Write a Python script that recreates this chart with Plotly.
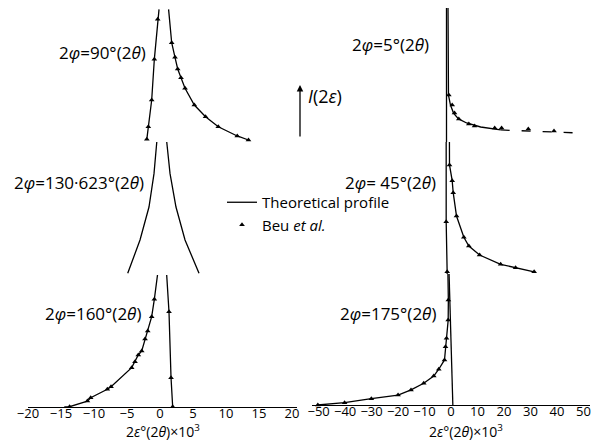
import plotly.graph_objects as go

# ---------------- data (x: 2ε°(2θ)×10³, I: relative intensity, % of panel height) -------------
# Left column: 2φ = 90°, 130.623°, 160°
t90_x = [-2.0, -1.77, -1.26, -0.86, -0.35, -0.15, None, 1.3, 1.77, 2.27, 2.68, 3.18, 3.79, 5.2, 6.9, 8.83, 11.7, 13.4]
t90_i = [2.0, 11.4, 31.3, 61.7, 91.6, 99, None, 99, 74.1, 63.2, 54.5, 48.0, 40.1, 27.6, 18.9, 11.4, 4.5, 1.5]
b90_x = [-0.35, -0.86, -1.26, -1.77, -2.0, 1.77, 2.27, 2.68, 3.18, 3.79, 5.2, 6.9, 8.83, 11.7, 13.4]
b90_i = [91.6, 61.7, 31.3, 11.4, 2.0, 74.1, 63.2, 54.5, 48.0, 40.1, 27.6, 18.9, 11.4, 4.5, 1.5]

t130_x = [-0.4, -0.5, -0.91, -1.67, -3.03, -4.89, None, 5.91, 3.79, 2.42, 1.52, 1.02, 0.95]
t130_i = [105, 100, 76.2, 51.1, 26.3, 1.3, None, 1.3, 26.3, 51.1, 76.2, 100, 105]

t160_x = [-14.5, -13.7, -11.0, -10.5, -7.98, -7.42, -4.29, -3.79, -3.29, -2.77, -2.27, -1.86, -1.26, -0.86, -0.35, -0.25,
          None, 0.95, 1.02, 1.36, 1.67, 1.92]
t160_i = [0, 0.2, 4.5, 7.0, 13.4, 15.4, 29.8, 34.3, 39.4, 42.4, 51.5, 57.6, 68.4, 81.6, 100, 105,
          None, 105, 100, 72.2, 22.2, 0.2]
b160_x = [-0.86, -1.26, -1.86, -2.27, -2.77, -3.29, -3.79, -4.29, -7.42, -7.98, -10.5, -11.0, -13.7, 1.36, 1.67, 1.92]
b160_i = [81.6, 68.4, 57.6, 51.5, 42.4, 39.4, 34.3, 29.8, 15.4, 13.4, 7.0, 4.5, 0.2, 72.2, 22.2, 0.2]

# Right column: 2φ = 5°, 45°, 175°
t5_x = [-1.7, -1.7, None, -1.14, -0.95, -0.2, 0.95, 2.84, 5.9, 11.2, 18.75]
t5_i = [0, 105, None, 105, 35, 27.6, 21.6, 17.2, 14.2, 11.2, 9.0]
t5_tail_x = [18.75, 48.3]
t5_tail_i = [9.0, 6.7]
b5_x = [-0.83, 0.45, 1.33, 2.95, 6.74, 8.9, 16.5, 19.1, 29.2, 38.9]
b5_i = [35.1, 27.6, 21.6, 17.2, 13.4, 11.9, 10.4, 10.4, 9.7, 8.2]

t45_x = [-1.44, -1.82, -1.82, None, -0.6, -0.57, 0.45, 0.83, 2.08, 4.85, 6.74, 10.8, 18.75, 24.4, 31.4]
t45_i = [0, 39.6, 105, None, 105, 82.6, 70.7, 61.6, 43.9, 27.8, 21.2, 14.4, 7.3, 4.8, 1.7]
b45_x = [-1.82, -1.44, -0.57, 0.45, 0.83, 2.08, 4.85, 6.74, 10.8, 18.75, 24.4, 31.4]
b45_i = [39.6, 1.7, 82.6, 70.7, 61.6, 43.9, 27.8, 21.2, 14.4, 7.3, 4.8, 1.7]

t175_x = [-50.3, -40.2, -30.1, -20.0, -15.1, -10.3, -6.52, -4.62, -2.46, -2.08, -1.7, -1.06, -1.0, -1.2,
          None, -0.8, 0.7]
t175_i = [0, 1.8, 4.8, 7.6, 11.5, 16.6, 22.1, 27.3, 34.4, 44.5, 50.9, 64.9, 80.2, 105,
          None, 105, 0]
b175_x = [-1.0, -1.06, -1.7, -2.08, -2.46, -4.62, -6.52, -10.3, -15.1, -20.0, -30.1, -40.2, -50.3]
b175_i = [80.2, 64.9, 50.9, 44.5, 34.4, 27.3, 22.1, 16.6, 11.5, 7.6, 4.8, 1.8, 0]

left_ticks = [-20, -15, -10, -5, 0, 5, 10, 15, 20]
right_ticks = [-50, -40, -30, -20, -10, 0, 10, 20, 30, 40, 50]

labels = {
    "y": "2<i>φ</i>=90°(2<i>θ</i>)",
    "y2": "2<i>φ</i>=130·623°(2<i>θ</i>)",
    "y3": "2<i>φ</i>=160°(2<i>θ</i>)",
    "y4": "2<i>φ</i>=5°(2<i>θ</i>)",
    "y5": "2<i>φ</i>= 45°(2<i>θ</i>)",
    "y6": "2<i>φ</i>=175°(2<i>θ</i>)",
}

# ---------------- figure ----------------
# The page body adds an 8 px margin, so the figure is placed 8 px in from the window's corner.
OFF = 8
FW, FH = 591, 435
FONT = "Open Sans"


def fx(px):
    return (px - OFF) / FW


def fy(py):
    return 1 - (py - OFF) / FH


fig = go.Figure()

line_style = dict(color="black", width=1.3)
mk = dict(symbol="triangle-up", size=5, color="black")

theory = [
    (t90_x, t90_i, "x", "y"), (t130_x, t130_i, "x", "y2"), (t160_x, t160_i, "x", "y3"),
    (t5_x, t5_i, "x2", "y4"), (t45_x, t45_i, "x2", "y5"), (t175_x, t175_i, "x2", "y6"),
]
beu = [
    (b90_x, b90_i, "x", "y"), (b160_x, b160_i, "x", "y3"),
    (b5_x, b5_i, "x2", "y4"), (b45_x, b45_i, "x2", "y5"), (b175_x, b175_i, "x2", "y6"),
]

for k, (xs, ys, xa, ya) in enumerate(theory):
    fig.add_trace(go.Scatter(x=xs, y=ys, xaxis=xa, yaxis=ya, mode="lines", line=line_style,
                             name="Theoretical profile", legendgroup="t", showlegend=(k == 0),
                             hoverinfo="skip"))
fig.add_trace(go.Scatter(x=t5_tail_x, y=t5_tail_i, xaxis="x2", yaxis="y4", mode="lines",
                         line=dict(color="black", width=1.3, dash="9px,12px"),
                         showlegend=False, hoverinfo="skip"))
for k, (xs, ys, xa, ya) in enumerate(beu):
    fig.add_trace(go.Scatter(x=xs, y=ys, xaxis=xa, yaxis=ya, mode="markers", marker=mk,
                             name="Beu <i>et al.</i>", legendgroup="b", showlegend=(k == 0),
                             cliponaxis=False))


def pdom(top_px, bot_px):
    return [max(0.0, fy(bot_px)), min(1.0, fy(top_px))]


ydoms = {
    "yaxis": pdom(8, 142), "yaxis2": pdom(142, 275), "yaxis3": pdom(275, 407),
    "yaxis4": pdom(8, 142), "yaxis5": pdom(142, 274), "yaxis6": pdom(274, 405),
}
for name, dom in ydoms.items():
    fig.layout[name] = dict(domain=dom, range=[0, 100], visible=False, fixedrange=True,
                            automargin=False,
                            anchor="x" if name in ("yaxis", "yaxis2", "yaxis3") else "x2")

axis_common = dict(showline=True, linecolor="black", linewidth=1.3, ticks="", showgrid=False,
                   zeroline=False, tickangle=0, tickfont=dict(family=FONT, size=13, color="black"),
                   tickmode="array", fixedrange=True, automargin=False, ticklabelstandoff=-6)
title_txt = "2<i>ε</i>°(2<i>θ</i>)×10<sup>3</sup>"
fig.update_layout(
    xaxis=dict(domain=[fx(28), fx(297.3)], range=[-20, 20.8], anchor="y3", tickvals=left_ticks,
               **axis_common),
    xaxis2=dict(domain=[fx(312), fx(590)], range=[-52.5, 52.5], anchor="y6", tickvals=right_ticks,
                **axis_common),
)

ann = []
label_pos = {"y": (148, 52), "y2": (146, 182), "y3": (143, 313),
             "y4": (431, 45), "y5": (438, 182), "y6": (438, 313)}
for key, (px, py) in label_pos.items():
    ann.append(dict(text=labels[key], xref="paper", yref="paper", x=fx(px), y=fy(py),
                    xanchor="right", yanchor="middle", showarrow=False,
                    font=dict(family=FONT, size=17, color="black")))
for cx in (163, 466):
    ann.append(dict(text=title_txt, xref="paper", yref="paper", x=fx(cx), y=fy(431),
                    xanchor="center", yanchor="middle", showarrow=False,
                    font=dict(family=FONT, size=14, color="black")))
# I(2ε) arrow
ann.append(dict(text="", xref="paper", yref="paper", x=fx(300), y=fy(85), ax=0, ay=53,
                showarrow=True, arrowhead=2, arrowsize=1, arrowwidth=1.3, arrowcolor="black"))
ann.append(dict(text="<i>I</i>(2<i>ε</i>)", xref="paper", yref="paper", x=fx(306), y=fy(96),
                xanchor="left", yanchor="middle", showarrow=False,
                font=dict(family=FONT, size=18, color="black")))

fig.update_layout(
    width=FW, height=FH, margin=dict(l=0, r=0, t=0, b=0, autoexpand=False),
    paper_bgcolor="white", plot_bgcolor="white",
    annotations=ann,
    showlegend=True,
    legend=dict(x=fx(222), y=fy(186), xanchor="left", yanchor="top",
                bgcolor="rgba(0,0,0,0)", font=dict(family=FONT, size=15, color="black"),
                tracegroupgap=0, itemwidth=30),
    font=dict(family=FONT, size=14, color="black"),
)

fig.write_html("out.html")
